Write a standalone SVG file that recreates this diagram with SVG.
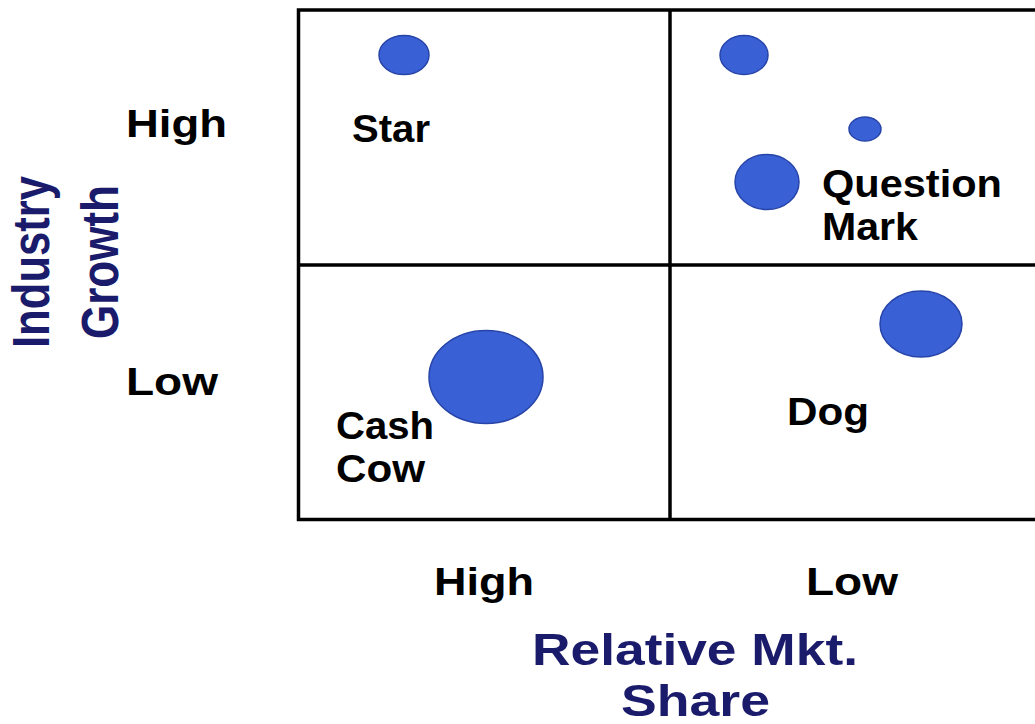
<svg xmlns="http://www.w3.org/2000/svg" width="1035" height="724" viewBox="0 0 1035 724">
  <style>
    .grid { stroke: #000; stroke-width: 3.5; fill: none; }
    .bubble { fill: #3a60d6; stroke: #2745a8; stroke-width: 1.5; }
    .lbl { font-family: "Liberation Sans", Arial, sans-serif; font-weight: bold; font-size: 38px; fill: #000; }
    .axis { font-family: "Liberation Sans", Arial, sans-serif; font-weight: bold; font-size: 51px; fill: #1b1b6c; }
    .axis-x { font-size: 45px; }
  </style>
  <rect width="1035" height="724" fill="#fff"/>

  <!-- Matrix grid -->
  <g id="connectors">
    <path class="grid" d="M1040,10 H298.5 V519.5 H1040"/>
    <line class="grid" x1="670" y1="10" x2="670" y2="519.5"/>
    <line class="grid" x1="298.5" y1="265" x2="1040" y2="265"/>
  </g>

  <!-- Quadrant: Star -->
  <g id="star">
    <ellipse class="bubble" cx="404" cy="55" rx="25" ry="19.5"/>
    <text class="lbl" x="352" y="142" textLength="78" lengthAdjust="spacingAndGlyphs">Star</text>
  </g>

  <!-- Quadrant: Question Mark -->
  <g id="question-mark">
    <ellipse class="bubble" cx="744" cy="55" rx="24" ry="19.5"/>
    <ellipse class="bubble" cx="865" cy="129" rx="16" ry="12"/>
    <ellipse class="bubble" cx="767" cy="182" rx="32" ry="27.5"/>
    <text class="lbl" x="822" y="197" textLength="180" lengthAdjust="spacingAndGlyphs">Question</text>
    <text class="lbl" x="822" y="240" textLength="96" lengthAdjust="spacingAndGlyphs">Mark</text>
  </g>

  <!-- Quadrant: Cash Cow -->
  <g id="cash-cow">
    <ellipse class="bubble" cx="486" cy="377" rx="57" ry="46.5"/>
    <text class="lbl" x="336" y="439" textLength="98" lengthAdjust="spacingAndGlyphs">Cash</text>
    <text class="lbl" x="336" y="482" textLength="89" lengthAdjust="spacingAndGlyphs">Cow</text>
  </g>

  <!-- Quadrant: Dog -->
  <g id="dog">
    <ellipse class="bubble" cx="921" cy="324" rx="41" ry="33"/>
    <text class="lbl" x="787" y="425" textLength="82" lengthAdjust="spacingAndGlyphs">Dog</text>
  </g>

  <!-- Row labels -->
  <g id="row-labels">
    <text class="lbl" x="126" y="137" textLength="101" lengthAdjust="spacingAndGlyphs">High</text>
    <text class="lbl" x="126" y="395" textLength="92" lengthAdjust="spacingAndGlyphs">Low</text>
  </g>

  <!-- Column labels -->
  <g id="column-labels">
    <text class="lbl" x="434" y="595" textLength="100" lengthAdjust="spacingAndGlyphs">High</text>
    <text class="lbl" x="806" y="595" textLength="92" lengthAdjust="spacingAndGlyphs">Low</text>
  </g>

  <!-- Axis titles -->
  <g id="y-axis-title">
    <text class="axis" transform="translate(49,262) rotate(-90)" text-anchor="middle" textLength="172" lengthAdjust="spacingAndGlyphs">Industry</text>
    <text class="axis" transform="translate(118,262) rotate(-90)" text-anchor="middle" textLength="154" lengthAdjust="spacingAndGlyphs">Growth</text>
  </g>
  <g id="x-axis-title">
    <text class="axis axis-x" x="532" y="665" textLength="326" lengthAdjust="spacingAndGlyphs">Relative Mkt.</text>
    <text class="axis axis-x" x="621" y="716" textLength="149" lengthAdjust="spacingAndGlyphs">Share</text>
  </g>
</svg>
